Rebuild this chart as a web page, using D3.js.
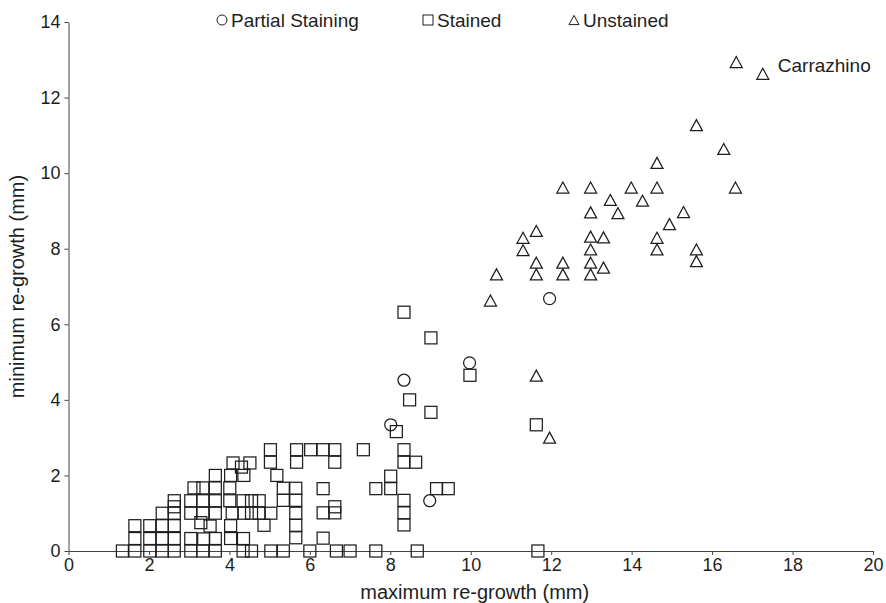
<!DOCTYPE html>
<html>
<head>
<meta charset="utf-8">
<script src="https://cdn.jsdelivr.net/npm/d3@7/dist/d3.min.js"></script>
<style>
  html, body { margin: 0; padding: 0; background: #fff; }
  svg { display: block; font-family: "Liberation Sans", Arial, Helvetica, sans-serif; }
</style>
</head>
<body>
<svg id="chart" width="886" height="603"></svg>
<script>
// Re-growth measurements (mm): [maximum, minimum] per specimen
const partialStaining = [
  [8.01, 3.34], [8.34, 4.52], [8.98, 1.33], [9.97, 4.98], [11.96, 6.68]
];

const stained = [
  // resting on the axis (minimum = 0)
  [1.34, 0], [1.65, 0], [2.02, 0], [2.33, 0], [2.63, 0], [3.04, 0], [3.34, 0], [3.65, 0],
  [4.34, 0], [4.55, 0], [5.03, 0], [5.34, 0], [6.0, 0], [6.66, 0], [7.0, 0], [7.64, 0],
  [8.67, 0], [11.67, 0],
  // low cluster
  [1.65, 0.33], [1.65, 0.67],
  [2.02, 0.33], [2.02, 0.67],
  [2.33, 0.33], [2.33, 0.67], [2.33, 1.0],
  [2.63, 0.33], [2.63, 0.67], [2.63, 1.0], [2.63, 1.17], [2.63, 1.33],
  [3.04, 0.33], [3.04, 1.0], [3.04, 1.33], [3.12, 1.67],
  [3.36, 0.32], [3.29, 0.75], [3.34, 1.0], [3.34, 1.33], [3.34, 1.67],
  [3.52, 0.66],
  [3.65, 0.33], [3.65, 1.0], [3.65, 1.33], [3.65, 1.67], [3.65, 2.0],
  [4.03, 0.33], [4.03, 0.67], [4.07, 1.0], [4.01, 1.33], [4.01, 1.67], [4.03, 2.0],
  [4.09, 2.33], [4.3, 2.22], [4.51, 2.33],
  [4.35, 0.33], [4.36, 1.0], [4.34, 1.33], [4.36, 2.0],
  [4.55, 1.0], [4.55, 1.33], [4.74, 1.0], [4.74, 1.33],
  [4.86, 0.68],
  [5.03, 1.0], [5.02, 2.35], [5.02, 2.68], [5.18, 2.0],
  [5.34, 1.34], [5.34, 1.66],
  [5.65, 0.35], [5.65, 0.68], [5.65, 1.0], [5.65, 1.34], [5.65, 1.66], [5.67, 2.35], [5.67, 2.68],
  [6.02, 2.68],
  [6.33, 0.34], [6.33, 1.01], [6.33, 1.65], [6.33, 2.68],
  [6.62, 1.01], [6.62, 1.17], [6.62, 2.35], [6.62, 2.68],
  [7.33, 2.68],
  [7.64, 1.65],
  [8.01, 1.65], [8.01, 1.98],
  [8.34, 0.69], [8.34, 1.01], [8.34, 1.34], [8.34, 2.35], [8.34, 2.68],
  [8.63, 2.35],
  [9.15, 1.65], [9.44, 1.65],
  // higher values
  [8.15, 3.16], [8.48, 4.0], [9.01, 3.67], [9.01, 5.64], [8.34, 6.32], [9.98, 4.65],
  [11.63, 3.34]
];

const unstained = [
  [10.49, 6.63], [10.64, 7.32], [11.3, 8.29], [11.3, 7.96], [11.63, 8.47], [11.63, 7.63],
  [11.63, 7.32], [11.63, 4.64], [11.96, 3.0], [12.29, 9.62], [12.29, 7.63], [12.29, 7.32],
  [12.98, 9.62], [12.98, 8.96], [12.98, 8.32], [12.98, 7.98], [12.98, 7.63], [12.98, 7.32],
  [13.3, 8.3], [13.3, 7.5], [13.47, 9.29], [13.66, 8.94], [13.99, 9.62], [14.27, 9.27],
  [14.63, 10.27], [14.63, 9.62], [14.63, 8.29], [14.63, 7.98], [14.94, 8.65], [15.29, 8.97],
  [15.61, 11.27], [15.61, 7.98], [15.61, 7.67], [16.29, 10.64], [16.58, 9.62],
  [16.6, 12.94], [17.26, 12.63]
];

// Named specimen annotated on the plot
const namedPoints = [{ name: "Carrazhino", value: [17.26, 12.63] }];

const xTicks = [0, 2, 4, 6, 8, 10, 12, 14, 16, 18, 20];
const yTicks = [0, 2, 4, 6, 8, 10, 12, 14];
const legendItems = [
  { label: "Partial Staining", shape: "circle" },
  { label: "Stained", shape: "square" },
  { label: "Unstained", shape: "triangle" }
];

const INK = "#1e1e1e";
const svg = d3.select("#chart");

const x = d3.scaleLinear().domain([0, 20]).range([68.5, 873]);
const y = d3.scaleLinear().domain([0, 14]).range([551, 22]);

// Axes
const xAxis = svg.append("g")
  .attr("transform", `translate(0,${y(0)})`)
  .call(d3.axisBottom(x).tickValues(xTicks).tickSize(4).tickSizeOuter(0).tickPadding(3));
const yAxis = svg.append("g")
  .attr("transform", `translate(${x(0)},0)`)
  .call(d3.axisLeft(y).tickValues(yTicks).tickSize(4).tickSizeOuter(0).tickPadding(4));

[xAxis, yAxis].forEach(g => {
  g.selectAll("path.domain").attr("stroke", "#444").attr("stroke-width", 1);
  g.selectAll(".tick line").attr("stroke", "#444").attr("stroke-width", 1);
  g.selectAll(".tick text")
    .attr("fill", INK)
    .style("font-size", "18px")
    .style("font-family", '"Liberation Sans", Arial, sans-serif');
});

// Axis titles
svg.append("text")
  .attr("x", x(10) + 4)
  .attr("y", 599)
  .attr("text-anchor", "middle")
  .attr("fill", INK)
  .style("font-size", "20px")
  .text("maximum re-growth (mm)");

svg.append("text")
  .attr("transform", `translate(24,${(y(0) + y(14)) / 2}) rotate(-90)`)
  .attr("text-anchor", "middle")
  .attr("fill", INK)
  .style("font-size", "20px")
  .text("minimum re-growth (mm)");

// Marker shapes drawn as outlines, centred on the data point
function marker(sel, shape, size) {
  const h = size / 2;
  if (shape === "circle") {
    return sel.append("circle").attr("r", h);
  }
  if (shape === "square") {
    return sel.append("rect").attr("x", -h).attr("y", -h).attr("width", size).attr("height", size);
  }
  const th = size * 0.92;
  return sel.append("path").attr("d", `M0,${-th / 2}L${h},${th / 2}L${-h},${th / 2}Z`);
}

function drawSeries(data, shape, size) {
  const g = svg.append("g")
    .attr("fill", "none")
    .attr("stroke", INK)
    .attr("stroke-width", 1.25);
  g.selectAll("g.pt")
    .data(data)
    .join("g")
    .attr("class", "pt")
    .attr("transform", d => `translate(${x(d[0])},${y(d[1])})`)
    .each(function () { marker(d3.select(this), shape, size); });
}

drawSeries(stained, "square", 12);
drawSeries(unstained, "triangle", 12);
drawSeries(partialStaining, "circle", 12);

// Specimen label
svg.selectAll("text.named")
  .data(namedPoints)
  .join("text")
  .attr("class", "named")
  .attr("x", d => x(d.value[0]) + 15)
  .attr("y", d => y(d.value[1]) - 2)
  .attr("fill", INK)
  .style("font-size", "19px")
  .text(d => d.name);

// Legend across the top
const legendX = [222, 428, 574];
const legend = svg.append("g");
legendItems.forEach((item, i) => {
  const g = legend.append("g").attr("transform", `translate(${legendX[i]},20)`);
  const m = marker(g, item.shape, 10);
  m.attr("fill", "none").attr("stroke", INK).attr("stroke-width", 1);
  g.append("text")
    .attr("x", 9)
    .attr("y", 7)
    .attr("fill", INK)
    .style("font-size", "19px")
    .text(item.label);
});
</script>
</body>
</html>
